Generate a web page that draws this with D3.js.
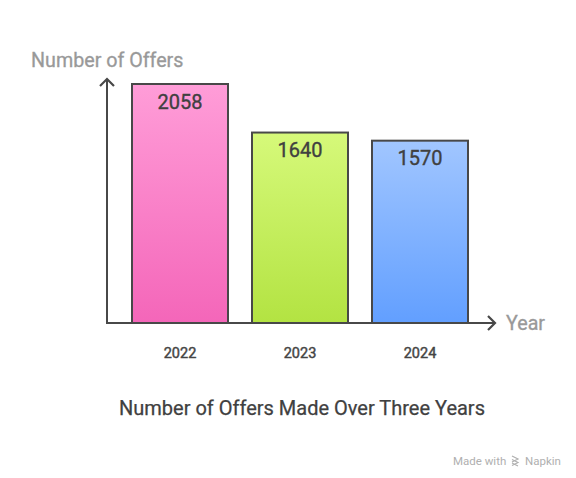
<!DOCTYPE html>
<html>
<head>
<meta charset="utf-8">
<script src="https://cdn.jsdelivr.net/npm/d3@7"></script>
<style>
  body { margin: 0; background: #fff; }
  svg { display: block; font-family: Roboto, "Noto Sans", sans-serif; }
</style>
</head>
<body>
<svg id="chart"></svg>
<script>
var w = 576; // width of the page
var h = 478; // height of the page

// chart data
var years = ["2022", "2023", "2024"];
var offers = [2058, 1640, 1570];
var topColors = ["#ff9dd8", "#d6f97a", "#a1c6ff"];
var bottomColors = ["#f466b9", "#b3e342", "#629fff"];

var originX = 107, baseY = 323;

var svg = d3.select("#chart")
  .attr("width", w)
  .attr("height", h);

// scales
var xScale = d3.scaleBand()
  .domain(years)
  .range([120, 480])
  .paddingInner(0.2)
  .paddingOuter(0.1);

var yScale = d3.scaleLinear()
  .domain([0, 2058])
  .range([baseY, 84]);

// gradients for the bars
var defs = svg.append("defs");
years.forEach(function(y, i) {
  var grad = defs.append("linearGradient")
    .attr("id", "grad" + i)
    .attr("x1", 0).attr("y1", 0).attr("x2", 0).attr("y2", 1);
  grad.append("stop").attr("offset", "0%").attr("stop-color", topColors[i]);
  grad.append("stop").attr("offset", "100%").attr("stop-color", bottomColors[i]);
});

// bars
svg.selectAll("rect.bar")
  .data(offers)
  .enter()
  .append("rect")
  .attr("class", "bar")
  .attr("x", function(d, i) { return xScale(years[i]); })
  .attr("y", function(d) { return yScale(d); })
  .attr("width", xScale.bandwidth())
  .attr("height", function(d) { return baseY - yScale(d); })
  .attr("fill", function(d, i) { return "url(#grad" + i + ")"; })
  .attr("stroke", "#484848")
  .attr("stroke-width", 2);

// value labels inside the bars
svg.selectAll("text.value")
  .data(offers)
  .enter()
  .append("text")
  .attr("class", "value")
  .attr("x", function(d, i) { return xScale(years[i]) + xScale.bandwidth() / 2; })
  .attr("y", function(d) { return yScale(d) + 24.5; })
  .attr("text-anchor", "middle")
  .attr("font-size", 20)
  .attr("fill", "#404040")
  .attr("stroke", "#404040")
  .attr("stroke-width", 0.35)
  .text(function(d) { return d; });

// x axis (years only, no ticks)
var xAxis = svg.append("g")
  .attr("transform", "translate(0," + baseY + ")")
  .call(d3.axisBottom(xScale).tickSize(0).tickPadding(25));
xAxis.select(".domain").remove();
xAxis.selectAll("text")
  .attr("font-size", 14.5)
  .attr("font-family", "Roboto, sans-serif")
  .attr("fill", "#454545")
  .attr("stroke", "#454545")
  .attr("stroke-width", 0.45);

// axis lines with arrows
svg.append("line")
  .attr("x1", originX).attr("y1", baseY)
  .attr("x2", 494).attr("y2", baseY)
  .attr("stroke", "#484848").attr("stroke-width", 2);
svg.append("polyline")
  .attr("points", [[488, baseY - 7], [495, baseY], [488, baseY + 7]].map(function(p) { return p.join(","); }).join(" "))
  .attr("fill", "none").attr("stroke", "#484848").attr("stroke-width", 2.2);

svg.append("line")
  .attr("x1", originX).attr("y1", baseY + 1)
  .attr("x2", originX).attr("y2", 80)
  .attr("stroke", "#484848").attr("stroke-width", 2);
svg.append("polyline")
  .attr("points", [[originX - 7, 86], [originX, 79], [originX + 7, 86]].map(function(p) { return p.join(","); }).join(" "))
  .attr("fill", "none").attr("stroke", "#484848").attr("stroke-width", 2.2);

// axis titles
svg.append("text")
  .attr("x", 31).attr("y", 67)
  .attr("font-size", 19.7)
  .attr("fill", "#999")
  .attr("stroke", "#999")
  .attr("stroke-width", 0.3)
  .text("Number of Offers");

svg.append("text")
  .attr("x", 506).attr("y", 330)
  .attr("font-size", 19.7)
  .attr("fill", "#999")
  .attr("stroke", "#999")
  .attr("stroke-width", 0.3)
  .text("Year");

// chart title
svg.append("text")
  .attr("x", 302).attr("y", 415)
  .attr("text-anchor", "middle")
  .attr("font-size", 20)
  .attr("fill", "#404040")
  .attr("stroke", "#404040")
  .attr("stroke-width", 0.25)
  .text("Number of Offers Made Over Three Years");

// watermark
var wm = svg.append("g").attr("fill", "#b0b0b0");
wm.append("text")
  .attr("x", 453).attr("y", 465)
  .attr("font-size", 11.5)
  .text("Made with");
wm.append("path")
  .attr("d", "M512,456 l6,3 l-6,3 M512,459.5 l6,3 l-6,3 M512,463 l6,3")
  .attr("fill", "none").attr("stroke", "#b0b0b0").attr("stroke-width", 1.2);
wm.append("text")
  .attr("x", 525).attr("y", 465)
  .attr("font-size", 11.5)
  .text("Napkin");
</script>
</body>
</html>
